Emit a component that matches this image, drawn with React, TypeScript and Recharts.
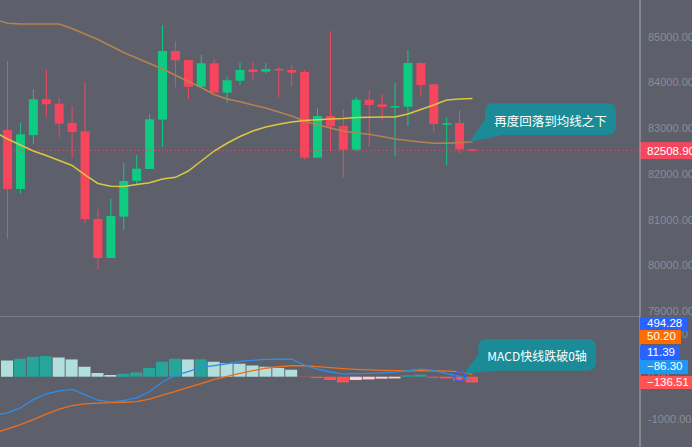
import React from 'react';
import { ComposedChart, Bar, Line, XAxis, YAxis, ReferenceLine, ReferenceDot, Cell } from 'recharts';

// candle slots start at -1 (only the indicators are visible there, cut at the left edge)
const SLOTS = [-1, 0, 1, 2, 3, 4, 5, 6, 7, 8, 9, 10, 11, 12, 13, 14, 15, 16, 17, 18, 19, 20, 21, 22, 23, 24, 25, 26, 27, 28, 29, 30, 31, 32, 33, 34, 35, 36];

const OPEN = [82960, 81671, 82851, 83632, 83535, 83113, 82932, 81015, 80162, 81065, 81846, 82108, 83186, 84687, 84491, 83907, 84419, 83776, 84038, 84287, 84235, 84294, 84272, 84228, 82355, 83266, 83048, 82530, 83623, 83522, 83457, 83470, 84425, 83959, 83085, 83113, 82539];
const HIGH = [84469, 83113, 83850, 84294, 83660, 83485, 84010, 81234, 81452, 82239, 82414, 83310, 85256, 84899, 84491, 84600, 84513, 84126, 84440, 84440, 84425, 84338, 84381, 84272, 83441, 85125, 83413, 83682, 83835, 83741, 83994, 84709, 84440, 83973, 83238, 83404, 82539];
const LOW = [80578, 81568, 82654, 83251, 82801, 82342, 80921, 79915, 80162, 80774, 81743, 82108, 82589, 83894, 83638, 83907, 83776, 83557, 83951, 84053, 84191, 83682, 83907, 82311, 82355, 82501, 81926, 82501, 82611, 83172, 82386, 83041, 83688, 82910, 82195, 82451, 82509];
const CLOSE = [81671, 82866, 83632, 83522, 83098, 82917, 81008, 80162, 81080, 81846, 82114, 83194, 84687, 84484, 83907, 84419, 83776, 84047, 84272, 84228, 84294, 84279, 84213, 82355, 83266, 83041, 82530, 83623, 83507, 83463, 83485, 84425, 83944, 83092, 83107, 82539, 82508.9];

const MA_FAST = [82917, 82764, 82633, 82501, 82403, 82294, 82184, 81977, 81791, 81730, 81725, 81769, 81806, 81889, 81926, 82064, 82283, 82501, 82670, 82818, 82939, 83026, 83085, 83135, 83168, 83183, 83201, 83212, 83234, 83240, 83245, 83245, 83310, 83409, 83507, 83616, 83638, 83649];
const MA_SLOW = [85380, 85293, 85278, 85278, 85278, 85278, 85179, 85059, 84939, 84797, 84655, 84534, 84414, 84294, 84156, 84021, 83889, 83736, 83638, 83579, 83507, 83441, 83354, 83266, 83157, 83070, 83004, 82939, 82895, 82866, 82818, 82764, 82731, 82698, 82670, 82670, 82681, 82705];

const HIST = [454, 384, 424, 471, 487, 454, 407, 235, 87, 40, 71, 101, 205, 353, 424, 407, 410, 353, 322, 306, 266, 235, 205, 165, -8, -31, -78, -134, -78, -64, -47, -40, 31, 47, -24, -40, -87, -136.51];
const DIF = [-906, -852, -734, -541, -407, -332, -301, -424, -555, -595, -558, -501, -348, -125, 35, 118, 224, 259, 306, 360, 386, 407, 412, 416, 271, 176, 111, 63, 71, 78, 89, 106, 141, 181, 151, 75, 9, -86.3];
const DEA = [-1329, -1228, -1129, -1012, -882, -767, -680, -640, -621, -612, -602, -586, -527, -435, -346, -252, -162, -64, 9, 78, 141, 200, 235, 259, 259, 240, 216, 193, 174, 160, 151, 144, 141, 146, 141, 132, 118, 50.2];

const PRICE_TICKS = [79000, 80000, 81000, 82000, 83000, 84000, 85000];
const MACD_TICKS = [-1000, 0, 1000];
const LAST_PRICE = 82508.9;

const MACD_TAGS = ['494.28', '50.20', '11.39', '−86.30', '−136.51'];
const MACD_TAG_COLORS = ['#2962ff', '#ff6d00', '#2962ff', '#2196f3', '#ff5252'];
const MACD_TAG_TOPS = [317, 330, 345.5, 360, 375.5];

const NOTE_PRICE = '再度回落到均线之下';
const NOTE_MACD = 'MACD快线跌破0轴';

const X_DOMAIN = [-0.58, 48.97];
const PRICE_DOMAIN = [78894, 85802];
const MACD_DOMAIN = [-1658, 1432];

const BG = '#5d5f6b';
const UP = '#0ecb81';
const DOWN = '#f6465d';
const AXIS_TEXT = '#8b8d97';
const AXIS_LINE = '#a9abb3';
const NOTE_BG = '#1b8c97';
const FONT = '"Liberation Sans", Arial, sans-serif';

const priceData = SLOTS.map((idx, i) => ({
  idx,
  open: i === 0 ? null : OPEN[i - 1],
  high: i === 0 ? null : HIGH[i - 1],
  low: i === 0 ? null : LOW[i - 1],
  close: i === 0 ? null : CLOSE[i - 1],
  maFast: MA_FAST[i],
  maSlow: MA_SLOW[i],
}));

const macdData = SLOTS.map((idx, i) => ({ idx, hist: HIST[i], dif: DIF[i], dea: DEA[i] }));

const histColor = (i: number) => {
  const v = HIST[i];
  const prev = i > 0 ? HIST[i - 1] : v - 1;
  if (v >= 0) return v >= prev ? '#26a69a' : '#b2dfdb';
  return v <= prev ? '#ff5252' : '#ffcdd2';
};

const Candle = (props: any) => {
  const { x, y, width, height, payload } = props;
  if (payload.high == null) return null;
  const top = height < 0 ? y + height : y;
  const h = Math.abs(height);
  const { open, close, high, low } = payload;
  const color = close >= open ? UP : DOWN;
  const k = high - low > 0 ? h / (high - low) : 0;
  const yOf = (v: number) => top + (high - v) * k;
  const cx = x + width / 2;
  const bodyTop = yOf(Math.max(open, close));
  const bodyBottom = yOf(Math.min(open, close));
  return (
    <g>
      <line x1={cx} x2={cx} y1={top} y2={top + h} stroke={color} strokeWidth={1} />
      <rect x={x} y={bodyTop} width={width} height={Math.max(bodyBottom - bodyTop, 1.5)} fill={color} />
    </g>
  );
};

const PriceTag = (props: any) => {
  const { x, y, width } = props.viewBox;
  const left = x + width;
  return (
    <g>
      <rect x={left} y={y - 8.5} width={52} height={17} fill={DOWN} />
      <text x={left + 7} y={y + 4} fill="#fff" fontSize={11.5} fontFamily={FONT}>
        {LAST_PRICE.toFixed(2)}
      </text>
    </g>
  );
};

// speech bubble anchored on a data point, box offset to the upper right
const Bubble = (props: any) => {
  const { cx, cy, text, dx, dy, w, h, tail, fontSize } = props;
  const bx = cx + dx;
  const by = cy + dy;
  return (
    <g>
      <path d={`M${bx} ${by + h - 16} L${cx + tail[0]} ${cy + tail[1]} L${bx + 18} ${by + h} Z`} fill={NOTE_BG} />
      <rect x={bx} y={by} width={w} height={h} rx={8} ry={8} fill={NOTE_BG} />
      <text
        x={bx + w / 2}
        y={by + h / 2 + 1}
        fill="#fff"
        fontSize={fontSize}
        textAnchor="middle"
        dominantBaseline="central"
        fontFamily='"Noto Sans CJK SC", "Noto Sans", sans-serif'
      >
        {text}
      </text>
    </g>
  );
};

const axisProps = {
  orientation: 'right' as const,
  width: 52,
  tickLine: false,
  interval: 0 as const,
  axisLine: { stroke: AXIS_LINE, strokeWidth: 1 },
  tick: { fill: AXIS_TEXT, fontSize: 11, fontFamily: FONT },
  tickFormatter: (v: number) => v.toFixed(2),
  allowDataOverflow: true,
};

export default function App() {
  return (
    <div style={{ position: 'absolute', left: 0, top: 0, width: 692, height: 447, background: BG, overflow: 'hidden' }}>
      <ComposedChart width={692} height={316} data={priceData} margin={{ top: 0, right: 0, bottom: 0, left: 0 }}>
        <XAxis dataKey="idx" type="number" domain={X_DOMAIN} allowDataOverflow hide />
        <YAxis {...axisProps} domain={PRICE_DOMAIN} ticks={PRICE_TICKS} />
        <ReferenceLine
          y={LAST_PRICE}
          stroke={DOWN}
          strokeOpacity={0.6}
          strokeDasharray="2 2"
          label={(p: any) => <PriceTag {...p} />}
        />
        <Line dataKey="maSlow" stroke="#b5834f" strokeWidth={1.5} dot={false} isAnimationActive={false} />
        <Line dataKey="maFast" stroke="#d9c840" strokeWidth={1.5} dot={false} isAnimationActive={false} />
        <Bar
          dataKey={(d: any) => (d.high == null ? null : [d.low, d.high])}
          barSize={9}
          shape={<Candle />}
          isAnimationActive={false}
        />
        <ReferenceDot
          x={36}
          y={MA_SLOW[37]}
          r={3}
          shape={(p: any) => (
            <Bubble {...p} text={NOTE_PRICE} dx={12.5} dy={-38.4} w={131} h={31.7} tail={[-2.5, 0]} fontSize={12.5} />
          )}
        />
      </ComposedChart>
      <ComposedChart width={692} height={131} data={macdData} margin={{ top: 0, right: 0, bottom: 0, left: 0 }}>
        <XAxis dataKey="idx" type="number" domain={X_DOMAIN} allowDataOverflow hide />
        <YAxis {...axisProps} domain={MACD_DOMAIN} ticks={MACD_TICKS} />
        <ReferenceLine y={MACD_DOMAIN[1]} stroke="#7a7c87" strokeWidth={2} />
        <Bar dataKey="hist" barSize={12} isAnimationActive={false}>
          {macdData.map((d, i) => (
            <Cell key={d.idx} fill={histColor(i)} />
          ))}
        </Bar>
        <Line dataKey="dea" stroke="#ef6f1c" strokeWidth={1.3} dot={false} isAnimationActive={false} />
        <Line dataKey="dif" stroke="#2e8de6" strokeWidth={1.3} dot={false} isAnimationActive={false} />
        <ReferenceDot x={35} y={DIF[36]} r={5} fill="none" stroke="#2962ff" strokeWidth={1.5} />
        <ReferenceDot
          x={35}
          y={DIF[36]}
          r={3}
          shape={(p: any) => (
            <Bubble {...p} text={NOTE_MACD} dx={18.7} dy={-37.4} w={117.7} h={31.7} tail={[4, -2.5]} fontSize={12} />
          )}
        />
      </ComposedChart>
      {MACD_TAGS.map((t, i) => (
        <div
          key={t}
          style={{
            position: 'absolute',
            left: 640,
            top: MACD_TAG_TOPS[i],
            height: 13.5,
            lineHeight: '13.5px',
            padding: '0 5px 0 7px',
            background: MACD_TAG_COLORS[i],
            color: '#fff',
            fontSize: 11.5,
            fontFamily: FONT,
            whiteSpace: 'nowrap',
          }}
        >
          {t}
        </div>
      ))}
    </div>
  );
}
